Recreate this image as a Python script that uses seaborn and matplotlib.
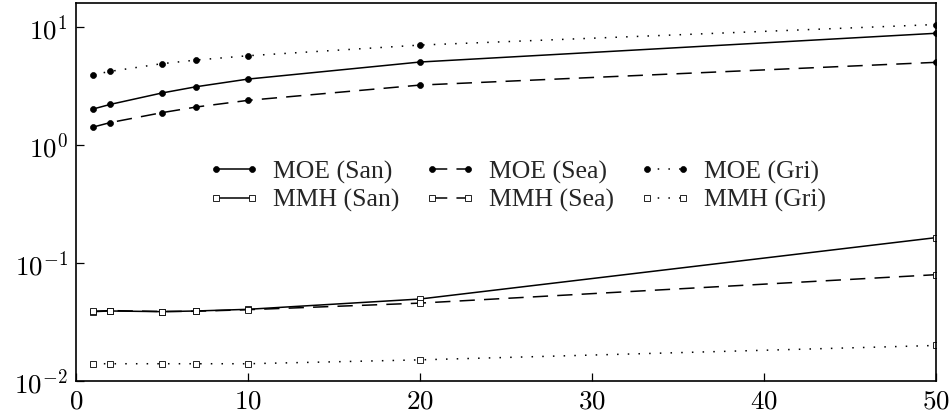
import matplotlib
matplotlib.use("Agg")
import matplotlib.pyplot as plt
import seaborn as sns
import numpy as np
from matplotlib.ticker import FixedLocator, NullLocator

x_vals = [1, 2, 5, 7, 10, 20, 50]
moe_san = [2.02, 2.21, 2.76, 3.12, 3.62, 5.05, 8.85]
moe_sea = [1.42, 1.55, 1.88, 2.10, 2.39, 3.22, 5.02]
moe_gri = [3.94, 4.21, 4.89, 5.25, 5.71, 7.03, 10.5]
mmh_san = [0.0387, 0.0392, 0.0387, 0.0392, 0.0405, 0.0495, 0.164]
mmh_sea = [0.0390, 0.0395, 0.0388, 0.0390, 0.0402, 0.0457, 0.0796]
mmh_gri = [0.0140, 0.0140, 0.0140, 0.0140, 0.0140, 0.0151, 0.0200]
labels = ["MOE (San)", "MOE (Sea)", "MOE (Gri)", "MMH (San)", "MMH (Sea)", "MMH (Gri)"]
x_ticks = [0, 10, 20, 30, 40, 50]
y_ticks = [1e-2, 1e-1, 1e0, 1e1]

sns.set_style("ticks")
plt.rcParams["mathtext.fontset"] = "cm"
plt.rcParams["font.family"] = ["Liberation Serif", "DejaVu Serif"]

fig = plt.figure(figsize=(9.53, 4.2), dpi=100)
ax = fig.add_axes([0.0797, 0.0929, 0.9023, 0.9001])

series = [moe_san, moe_sea, moe_gri, mmh_san, mmh_sea, mmh_gri]
lw = 1.1
for i, (ys, lab) in enumerate(zip(series, labels)):
    ls = ["-", (0, (10, 6)), (0, (1, 6))][i % 3]
    if i < 3:
        mk = dict(marker="o", markersize=4.3, markerfacecolor="black",
                  markeredgecolor="black", markeredgewidth=0.5)
    else:
        mk = dict(marker="s", markersize=4.5, markerfacecolor="white",
                  markeredgecolor="black", markeredgewidth=0.6)
    sns.lineplot(x=x_vals, y=ys, ax=ax, color="black", linewidth=lw,
                 linestyle=ls, label=lab, **mk)

ax.set_yscale("log")
ax.set_xlim(0, 50)
ax.set_ylim(1e-2, 16)
ax.xaxis.set_major_locator(FixedLocator(x_ticks))
ax.set_xticklabels([f"${t}$" for t in x_ticks])
ax.yaxis.set_major_locator(FixedLocator(y_ticks))
ax.yaxis.set_minor_locator(NullLocator())
ax.set_yticklabels([r"$10^{-2}$", r"$10^{-1}$", r"$10^{0}$", r"$10^{1}$"])
ax.tick_params(axis="both", direction="in", length=6, width=0.9,
               labelsize=19.5, colors="black", pad=6)
for s in ax.spines.values():
    s.set_linewidth(1.2)
    s.set_color("black")
ax.set_xlabel("")
ax.set_ylabel("")

handles, labs = ax.get_legend_handles_labels()
order = [0, 3, 1, 4, 2, 5]
leg = ax.legend([handles[k] for k in order], [labs[k] for k in order],
                loc="center", bbox_to_anchor=(0.513, 0.5146), ncol=3,
                frameon=False, fontsize=18.5, handlelength=2.0, numpoints=2,
                columnspacing=1.0, handletextpad=0.5, labelspacing=0.2,
                borderpad=0.2)

fig.savefig("out.png", dpi=100)
